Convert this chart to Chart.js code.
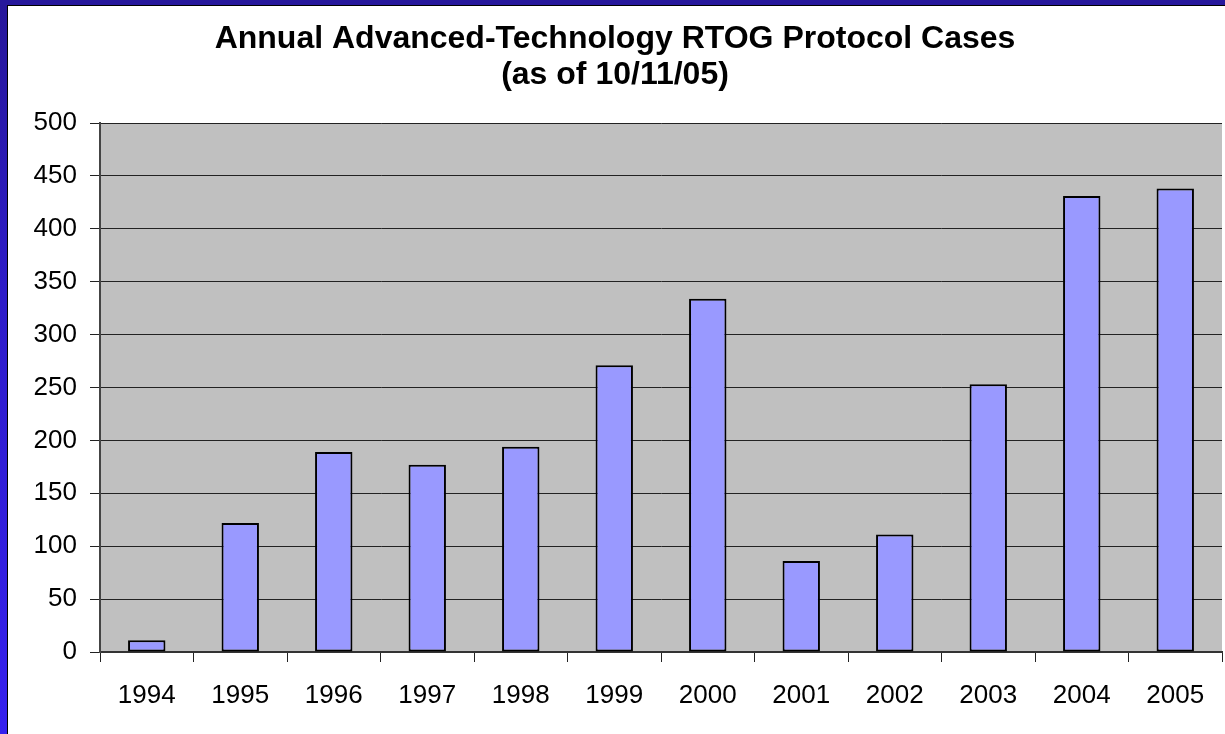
<!DOCTYPE html>
<html>
<head>
<meta charset="utf-8">
<script src="https://cdn.jsdelivr.net/npm/chart.js@4.4.1/dist/chart.umd.min.js"></script>
<style>
  html, body { margin: 0; padding: 0; width: 1225px; height: 734px; overflow: hidden; }
  body { background: #fff; position: relative; }
  #leftbar { position: absolute; left: 0; top: 0; width: 7px; height: 734px; background: linear-gradient(to bottom, #27179a 0%, #2e1cc8 40%, #3621ee 100%); }
  #topbar { position: absolute; left: 0; top: 0; width: 1225px; height: 5px; background: #27189c; }
  #frame { position: absolute; left: 7px; top: 5px; width: 1218px; height: 729px; border-left: 1px solid #000; border-top: 1px solid #000; background: #fff; }
  #wrap { position: absolute; left: 8px; top: 6px; width: 1217px; height: 728px; }
</style>
</head>
<body>
<div id="leftbar"></div>
<div id="topbar"></div>
<div id="frame"></div>
<div id="wrap"><canvas id="c" width="1217" height="728"></canvas></div>
<script>
const years = ['1994','1995','1996','1997','1998','1999','2000','2001','2002','2003','2004','2005'];
const cases = [11, 122, 189, 177, 194, 271, 334, 86, 111, 253, 431, 438];
const yTicks = [0, 50, 100, 150, 200, 250, 300, 350, 400, 450, 500];
const titleLines = ['Annual Advanced-Technology RTOG Protocol Cases', '(as of 10/11/05)'];

const plotBg = {
  id: 'plotBg',
  beforeDraw(chart) {
    const {ctx, chartArea: a} = chart;
    ctx.save();
    ctx.fillStyle = '#c0c0c0';
    ctx.fillRect(a.left, a.top, a.right - a.left, a.bottom - a.top);
    ctx.restore();
  }
};

new Chart(document.getElementById('c'), {
  type: 'bar',
  data: {
    labels: years,
    datasets: [{
      data: cases,
      backgroundColor: '#9999ff',
      borderColor: '#000',
      borderWidth: 2,
      borderSkipped: false,
      barPercentage: 0.4,
      categoryPercentage: 1.0
    }]
  },
  plugins: [plotBg],
  options: {
    responsive: false,
    animation: false,
    layout: { padding: { left: 0, right: 3, top: 0, bottom: 0 } },
    plugins: {
      legend: { display: false },
      tooltip: { enabled: false },
      title: {
        display: true,
        text: titleLines,
        color: '#000',
        font: { family: 'Liberation Sans, Arial, sans-serif', size: 32, weight: 'bold', lineHeight: '36px' },
        padding: { top: 15, bottom: 30 }
      }
    },
    scales: {
      x: {
        grid: { drawOnChartArea: false, drawTicks: true, tickLength: 10, color: '#222', offset: true },
        border: { color: '#333', width: 2 },
        ticks: { color: '#000', padding: 18, font: { family: 'Liberation Sans, Arial, sans-serif', size: 26 }, maxRotation: 0, autoSkip: false },
        afterFit(s) { s.height = 82; }
      },
      y: {
        min: 0, max: 500,
        afterBuildTicks(s) { s.ticks = yTicks.map(v => ({ value: v })); },
        grid: { color: '#222', lineWidth: 1, tickLength: 10, drawTicks: true },
        border: { color: '#444', width: 2 },
        ticks: { color: '#000', padding: 13, font: { family: 'Liberation Sans, Arial, sans-serif', size: 26 } },
        afterFit(s) { s.width = 92; }
      }
    }
  }
});
</script>
</body>
</html>
